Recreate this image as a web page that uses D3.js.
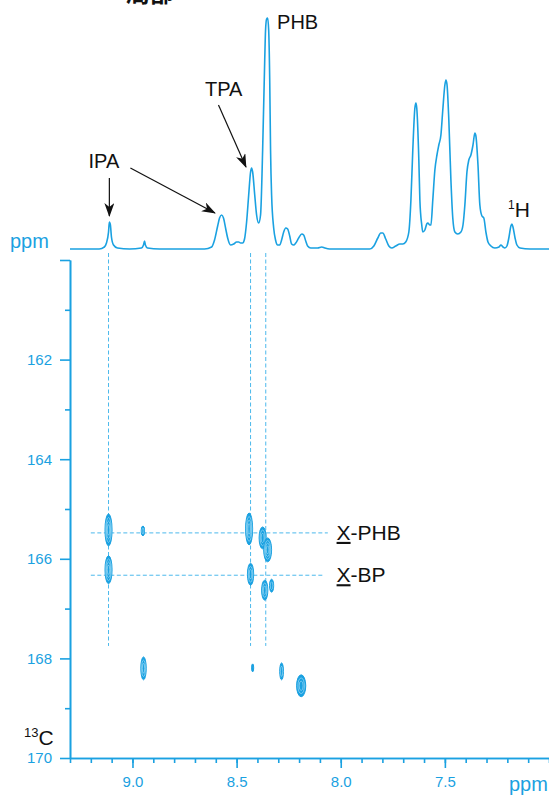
<!DOCTYPE html>
<html>
<head>
<meta charset="utf-8">
<script src="https://cdn.jsdelivr.net/npm/d3@7"></script>
<style>
  body { margin: 0; background: #fff; }
  svg { display: block; font-family: "Liberation Sans", Arial, sans-serif; }
</style>
</head>
<body>
<svg class="chart"></svg>
<script>
'use strict';

// 1H projection (ppm, relative intensity)
var hPpm = [9.30, 9.16, 9.135, 9.125, 9.115, 9.111, 9.106, 9.101, 9.091, 9.072, 9.014,
  8.957, 8.947, 8.942, 8.938, 8.928, 8.870, 8.654, 8.620, 8.606, 8.591, 8.582, 8.572,
  8.563, 8.553, 8.543, 8.529, 8.514, 8.500, 8.490, 8.481, 8.471, 8.462, 8.452, 8.442,
  8.433, 8.428, 8.423, 8.413, 8.404, 8.394, 8.385, 8.375, 8.365, 8.361, 8.356, 8.351,
  8.346, 8.341, 8.337, 8.332, 8.322, 8.313, 8.303, 8.293, 8.284, 8.274, 8.264, 8.255,
  8.245, 8.236, 8.226, 8.216, 8.202, 8.187, 8.178, 8.168, 8.159, 8.144, 8.111, 8.091,
  8.077, 8.053, 7.861, 7.841, 7.822, 7.808, 7.798, 7.784, 7.769, 7.755, 7.736, 7.716,
  7.702, 7.688, 7.673, 7.663, 7.654, 7.644, 7.639, 7.635, 7.625, 7.620, 7.611, 7.606,
  7.596, 7.587, 7.582, 7.572, 7.567, 7.558, 7.548, 7.538, 7.529, 7.519, 7.510, 7.500,
  7.495, 7.490, 7.481, 7.471, 7.462, 7.452, 7.438, 7.423, 7.413, 7.404, 7.394, 7.385,
  7.375, 7.365, 7.356, 7.351, 7.341, 7.332, 7.322, 7.313, 7.303, 7.293, 7.279, 7.260,
  7.240, 7.231, 7.221, 7.212, 7.202, 7.192, 7.183, 7.178, 7.173, 7.163, 7.154, 7.139,
  7.091, 7.00];
var hInt = [0, 0, 2, 6, 17, 27, 24, 12, 4, 1, 0,
  1, 4, 8, 4, 1, 0, 0, 2, 9, 23, 31, 34,
  31, 21, 11, 4, 5, 7, 7, 6, 6, 10, 27, 54,
  77, 81, 77, 54, 34, 26, 34, 99, 189, 219, 230, 231,
  219, 169, 99, 54, 21, 9, 4, 4, 9, 17, 21, 20,
  13, 5, 4, 6, 11, 15, 14, 8, 3, 1, 1, 2,
  1, 0, 0, 3, 11, 16, 16, 10, 3, 1, 3, 5,
  5, 7, 17, 49, 99, 141, 146, 141, 89, 49, 24, 17,
  19, 25, 26, 24, 24, 49, 79, 94, 104, 114, 139, 164,
  169, 165, 129, 69, 31, 17, 15, 17, 24, 44, 77, 89,
  94, 104, 116, 113, 84, 44, 33, 31, 17, 7, 3, 1,
  2, 4, 2, 1, 3, 12, 23, 25, 22, 11, 4, 1,
  0, 0];

// HMBC cross peaks: 1H shift, 13C shift, half widths (ppm), contour levels
var cpH  = [9.115, 9.115, 8.950, 8.947, 8.440, 8.433, 8.375, 8.351, 8.365, 8.332, 8.423, 8.284, 8.190];
var cpC  = [165.42, 166.22, 165.44, 168.20, 165.40, 166.31, 165.58, 165.82, 166.63, 166.54, 168.19, 168.26, 168.55];
var cpWH = [0.017, 0.017, 0.008, 0.013, 0.017, 0.015, 0.017, 0.019, 0.015, 0.010, 0.005, 0.009, 0.022];
var cpWC = [0.32, 0.28, 0.10, 0.23, 0.32, 0.22, 0.22, 0.24, 0.20, 0.13, 0.08, 0.17, 0.22];
var cpLv = [4, 4, 2, 3, 4, 3, 3, 4, 3, 2, 1, 2, 3];

// assignments
var vLinePpm = [9.115, 8.433, 8.36];
var hLineC = [165.48, 166.33];
var hLineEnd = [8.062, 8.077];
var hLineLabels = ['PHB', 'BP'];

var xMajor = [9.0, 8.5, 8.0, 7.5];
var cMajor = [160, 162, 164, 166, 168, 170];
var cMinor = [161, 163, 165, 167, 169];

var blue = '#1aa1e1',
    dashBlue = '#4cb9ec';

var width = 549, height = 797;

var svg = d3.select('.chart')
    .attr('width', width)
    .attr('height', height);

var x = d3.scaleLinear().domain([9.3, 7.0]).range([70, 549]);
var yC = d3.scaleLinear().domain([160, 170]).range([260, 758]);
var yH = d3.scaleLinear().domain([0, 240]).range([249, 9]);

// arrow marker
svg.append('defs').append('marker')
    .attr('id', 'arrow')
    .attr('markerUnits', 'userSpaceOnUse')
    .attr('viewBox', '0 0 14 10')
    .attr('refX', 13).attr('refY', 5)
    .attr('markerWidth', 14).attr('markerHeight', 10)
    .attr('orient', 'auto')
  .append('path')
    .attr('d', 'M0,0 L14,5 L0,10 L4,5 Z')
    .attr('fill', '#111');

// title, cut off at the top as in the source figure
svg.append('text')
    .attr('x', 126).attr('y', 2)
    .attr('font-family', '"Noto Sans CJK SC", sans-serif')
    .attr('font-weight', 'bold')
    .attr('font-size', 24)
    .attr('fill', '#111')
    .text('局部');

// axes
var xAxisMinor = d3.axisBottom(x)
    .tickValues(d3.range(93, 69, -1).map(function(d) { return d / 10; }))
    .tickSize(5).tickSizeOuter(0).tickFormat('');
var xAxisMajor = d3.axisBottom(x)
    .tickValues(xMajor).tickSize(10).tickSizeOuter(0).tickPadding(8)
    .tickFormat(d3.format('.1f'));
var yAxisMajor = d3.axisLeft(yC)
    .tickValues(cMajor).tickSize(10).tickSizeOuter(0).tickPadding(8)
    .tickFormat(function(d) { return d === 160 ? '' : d; });
var yAxisMinor = d3.axisLeft(yC)
    .tickValues(cMinor).tickSize(5).tickSizeOuter(0).tickFormat('');

function styleAxis(g) {
  g.selectAll('path, line').attr('stroke', blue).attr('stroke-width', 1.6);
  g.selectAll('text').attr('fill', blue).attr('font-size', 15)
    .attr('font-family', '"Liberation Sans", Arial, sans-serif');
}

svg.append('g').attr('transform', 'translate(0,758)').call(xAxisMinor).call(styleAxis);
svg.append('g').attr('transform', 'translate(0,758)').call(xAxisMajor).call(styleAxis);
svg.append('g').attr('transform', 'translate(70,0)').call(yAxisMinor).call(styleAxis);
svg.append('g').attr('transform', 'translate(70,0)').call(yAxisMajor).call(styleAxis);

// dashed guide lines
svg.selectAll('.vguide')
    .data(vLinePpm)
  .enter().append('line')
    .attr('x1', x).attr('x2', x)
    .attr('y1', yH(0) + 4).attr('y2', yC(167.75))
    .attr('stroke', dashBlue).attr('stroke-width', 1)
    .attr('stroke-dasharray', '4,2.5');

svg.selectAll('.hguide')
    .data(hLineC)
  .enter().append('line')
    .attr('x1', x(9.2)).attr('x2', function(d, i) { return x(hLineEnd[i]); })
    .attr('y1', yC).attr('y2', yC)
    .attr('stroke', dashBlue).attr('stroke-width', 1)
    .attr('stroke-dasharray', '4,2.5');

var hLab = svg.selectAll('.hlab')
    .data(hLineC)
  .enter().append('text')
    .attr('x', x(8.02))
    .attr('y', function(d) { return yC(d) + 7; })
    .attr('font-size', 21)
    .attr('fill', '#111');
hLab.append('tspan').attr('text-decoration', 'underline').text('X');
hLab.append('tspan').text(function(d, i) { return '-' + hLineLabels[i]; });

// cross peaks as stacked contour rings
var peaks = d3.range(cpH.length).map(function(i) {
  return { h: cpH[i], c: cpC[i], wh: cpWH[i], wc: cpWC[i], lv: cpLv[i] };
});

var peak = svg.selectAll('.peak')
    .data(peaks)
  .enter().append('g')
    .attr('transform', function(d) { return 'translate(' + x(d.h) + ',' + yC(d.c) + ')'; });

peak.append('ellipse')
    .attr('rx', function(d) { return Math.abs(x(d.h + d.wh) - x(d.h)); })
    .attr('ry', function(d) { return yC(d.c + d.wc) - yC(d.c); })
    .attr('fill', blue)
    .attr('stroke', blue)
    .attr('stroke-width', 1);

peak.each(function(d) {
  var g = d3.select(this);
  var rx = Math.abs(x(d.h + d.wh) - x(d.h)),
      ry = yC(d.c + d.wc) - yC(d.c);
  d3.range(1, d.lv).forEach(function(k) {
    g.append('ellipse')
      .attr('rx', rx * (1 - k / (d.lv + 0.5)))
      .attr('ry', ry * (1 - k / (d.lv + 0.5)))
      .attr('fill', 'none')
      .attr('stroke', '#cdeefc')
      .attr('stroke-width', 0.5);
  });
});

// 1H spectrum
var line = d3.line()
    .x(function(d) { return x(d[0]); })
    .y(function(d) { return yH(d[1]); })
    .curve(d3.curveMonotoneX);

svg.append('path')
    .datum(d3.zip(hPpm, hInt))
    .attr('d', line)
    .attr('fill', 'none')
    .attr('stroke', blue)
    .attr('stroke-width', 1.6)
    .attr('stroke-linejoin', 'round');

// peak labels + arrows
var arrows = [
  [[9.111, 71], [9.111, 33]],
  [[9.01, 81], [8.604, 36]],
  [[8.587, 144], [8.455, 82]]
];
svg.selectAll('.arrow')
    .data(arrows)
  .enter().append('line')
    .attr('x1', function(d) { return x(d[0][0]); })
    .attr('y1', function(d) { return yH(d[0][1]); })
    .attr('x2', function(d) { return x(d[1][0]); })
    .attr('y2', function(d) { return yH(d[1][1]); })
    .attr('stroke', '#111').attr('stroke-width', 1.2)
    .attr('marker-end', 'url(#arrow)');

var labels = [
  { t: 'IPA', h: 9.137, v: 81 },
  { t: 'TPA', h: 8.562, v: 153 },
  { t: 'PHB', h: 8.207, v: 220 }
];
svg.selectAll('.plab')
    .data(labels)
  .enter().append('text')
    .attr('x', function(d) { return x(d.h); })
    .attr('y', function(d) { return yH(d.v); })
    .attr('text-anchor', 'middle')
    .attr('font-size', 20)
    .attr('fill', '#111')
    .text(function(d) { return d.t; });

// nucleus labels
var hLabel = svg.append('text').attr('x', 508).attr('y', 217).attr('fill', '#111');
hLabel.append('tspan').attr('font-size', 12).attr('dy', -8).text('1');
hLabel.append('tspan').attr('font-size', 21).attr('dy', 8).text('H');

var cLabel = svg.append('text').attr('x', 24).attr('y', 745).attr('fill', '#111');
cLabel.append('tspan').attr('font-size', 13).attr('dy', -8).text('13');
cLabel.append('tspan').attr('font-size', 21).attr('dy', 8).text('C');

svg.append('text')
    .attr('x', 10).attr('y', 248)
    .attr('font-size', 20).attr('fill', blue)
    .text('ppm');
svg.append('text')
    .attr('x', 509).attr('y', 791)
    .attr('font-size', 20).attr('fill', blue)
    .text('ppm');
</script>
</body>
</html>
